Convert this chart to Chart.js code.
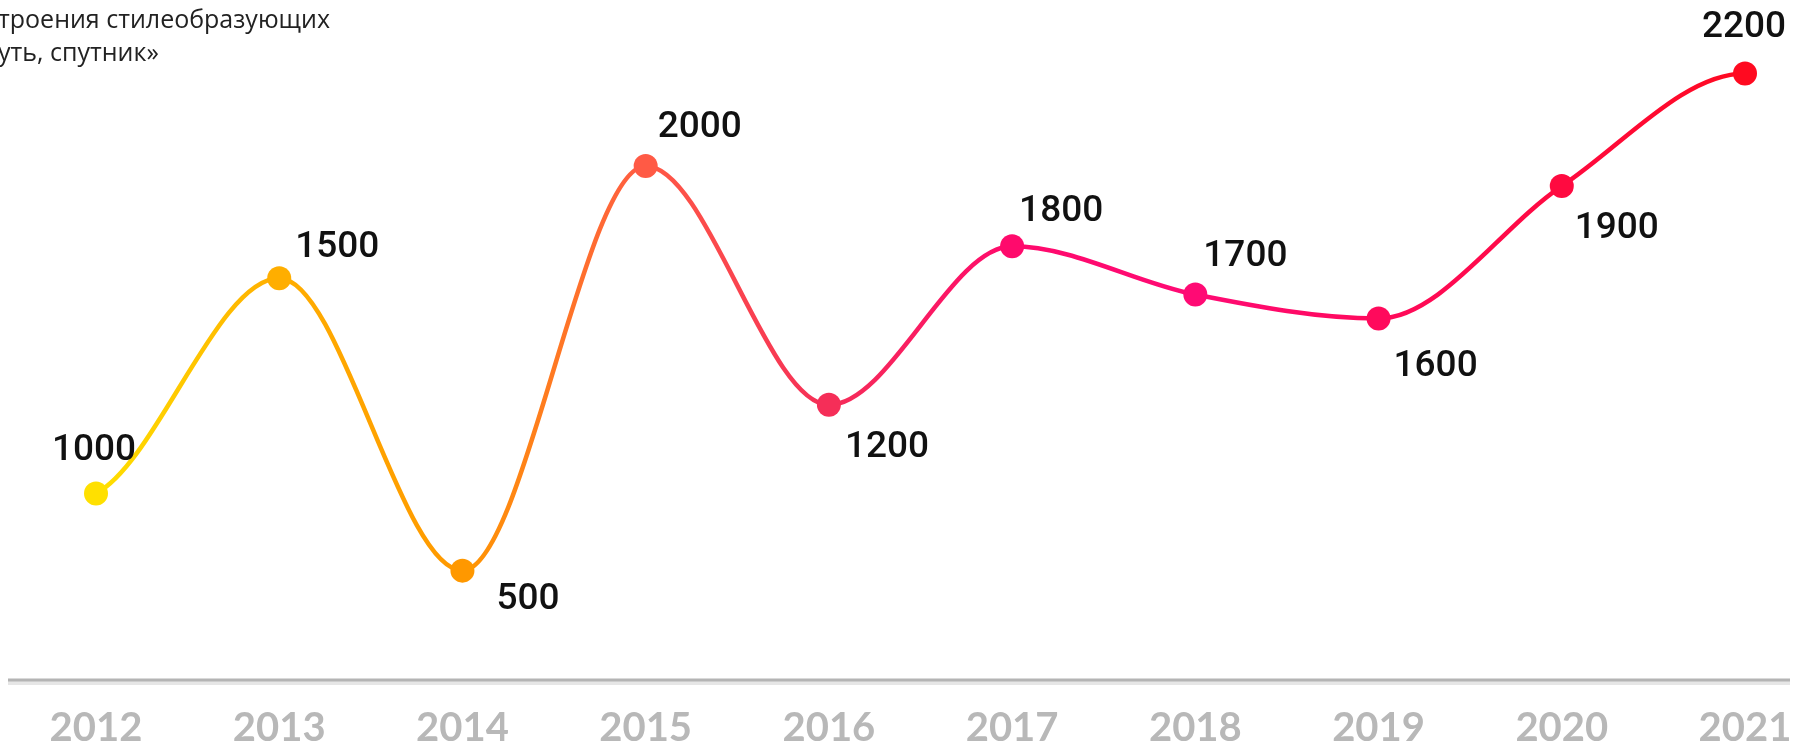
<!DOCTYPE html>
<html>
<head>
<meta charset="utf-8">
<script src="https://cdn.jsdelivr.net/npm/chart.js@4.4.1/dist/chart.umd.min.js"></script>
<style>
    html, body { margin: 0; padding: 0; background: #fff; }
    #wrap { position: relative; width: 1799px; height: 743px; overflow: hidden; }
    #title { position: absolute; left: -2px; top: 2px; font: 25px 'Open Sans', sans-serif; color: #222; line-height: 33px; }
    canvas { position: absolute; left: 0; top: 0; }
</style>
</head>
<body>
<div id="wrap">
    <canvas id="lineChart" width="1799" height="743"></canvas>
    <div id="title">троения стилеобразующих<br>уть, спутник»</div>
</div>
<script>
// Years on the x axis
const years = ['2012', '2013', '2014', '2015', '2016', '2017', '2018', '2019', '2020', '2021'];
// Values written next to each point
const values = [1000, 1500, 500, 2000, 1200, 1800, 1700, 1600, 1900, 2200];
// Heights the points are drawn at (the picture is not to scale)
const levels = [764, 1500, 500, 1884, 1067, 1609, 1444, 1362, 1815, 2200];
// Colour of each point, also used for the line gradient
const pointColors = ['#ffe000', '#ffae00', '#ff9800', '#ff5a45', '#f52e58', '#ff0a6c', '#ff0a74', '#ff0a5c', '#ff0a40', '#ff0a20'];

document.addEventListener('DOMContentLoaded', function() {
    // Where each value label sits relative to its point
    const labelPos = [
        { dx: -2, dy: -43, align: 'center' },
        { dx: 16, dy: -30, align: 'left' },
        { dx: 34, dy: 29, align: 'left' },
        { dx: 12, dy: -38, align: 'left' },
        { dx: 16, dy: 43, align: 'left' },
        { dx: 7, dy: -35, align: 'left' },
        { dx: 8, dy: -38, align: 'left' },
        { dx: 15, dy: 48, align: 'left' },
        { dx: 13, dy: 43, align: 'left' },
        { dx: -1, dy: -46, align: 'center' }
    ];

    // Grey baseline running across the whole width
    const baseLine = {
        id: 'baseLine',
        beforeDatasetsDraw(chart) {
            const ctx = chart.ctx;
            const y = chart.chartArea.bottom;
            ctx.save();
            ctx.strokeStyle = '#e6e6e6';
            ctx.lineWidth = 4;
            ctx.beginPath();
            ctx.moveTo(8, y + 3);
            ctx.lineTo(1790, y + 3);
            ctx.stroke();
            ctx.strokeStyle = '#b4b4b4';
            ctx.lineWidth = 3;
            ctx.beginPath();
            ctx.moveTo(8, y);
            ctx.lineTo(1790, y);
            ctx.stroke();
            ctx.restore();
        }
    };

    // The curve leaves the first point and reaches the last one almost flat
    const flatEnds = {
        id: 'flatEnds',
        beforeDatasetsDraw(chart) {
            const meta = chart.getDatasetMeta(0);
            meta.dataset.updateControlPoints(chart.chartArea, 'x');
            const pts = meta.data;
            const first = pts[0];
            const last = pts[pts.length - 1];
            first.cp2y = first.y + (pts[1].y - first.y) * 0.15;
            last.cp1y = last.y;
        }
    };

    // Value labels
    const valueLabels = {
        id: 'valueLabels',
        afterDatasetsDraw(chart) {
            const ctx = chart.ctx;
            const meta = chart.getDatasetMeta(0);
            ctx.save();
            ctx.font = '500 37px Roboto, sans-serif';
            ctx.fillStyle = '#111';
            ctx.textBaseline = 'middle';
            meta.data.forEach(function(pt, i) {
                const p = labelPos[i];
                ctx.textAlign = p.align;
                ctx.fillText(String(values[i]), pt.x + p.dx, pt.y + p.dy);
            });
            ctx.restore();
        }
    };

    function lineGradient(context) {
        const chart = context.chart;
        const area = chart.chartArea;
        if (!area) return pointColors[0];
        const g = chart.ctx.createLinearGradient(area.left, 0, area.right, 0);
        pointColors.forEach(function(c, i) {
            g.addColorStop(i / (pointColors.length - 1), c);
        });
        return g;
    }

    const config = {
        type: 'line',
        data: {
            labels: years,
            datasets: [{
                data: levels,
                borderColor: lineGradient,
                borderWidth: 4.5,
                cubicInterpolationMode: 'monotone',
                fill: false,
                clip: false,
                pointRadius: 12,
                pointHoverRadius: 12,
                pointBorderWidth: 0,
                pointBackgroundColor: pointColors
            }]
        },
        options: {
            responsive: false,
            animation: false,
            layout: {
                padding: { top: 15, left: 96, right: 54, bottom: -33 }
            },
            plugins: {
                legend: { display: false },
                tooltip: { enabled: false }
            },
            scales: {
                x: {
                    offset: false,
                    grid: { display: false, drawTicks: false },
                    border: { display: false },
                    ticks: {
                        padding: 28,
                        color: '#b8b8b8',
                        font: { family: 'Lato', size: 40, weight: 'bold', lineHeight: 1 }
                    },
                    // keep the tick labels from pushing the plot inwards
                    afterFit: function(scale) {
                        scale.paddingLeft = 0;
                        scale.paddingRight = 0;
                    }
                },
                y: {
                    display: false,
                    min: 126,
                    max: 2400
                }
            }
        },
        plugins: [baseLine, flatEnds, valueLabels]
    };

    const ctx = document.getElementById('lineChart').getContext('2d');
    new Chart(ctx, config);
});
</script>
</body>
</html>
